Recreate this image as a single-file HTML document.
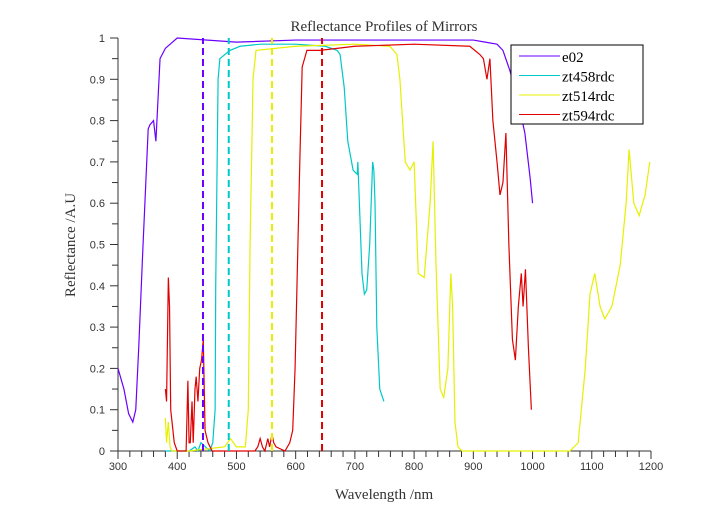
<!DOCTYPE html>
<html><head><meta charset="utf-8"><style>
body{margin:0;background:#fff;}
svg text{font-family:"Liberation Sans",sans-serif;}
.serif{font-family:"Liberation Serif",serif;}
</style></head><body>
<svg id="chart" width="718" height="508" xmlns="http://www.w3.org/2000/svg">
<text class="serif" x="384" y="31" text-anchor="middle" font-size="15" fill="#333">Reflectance Profiles of Mirrors</text>
<text class="serif" x="384" y="499" text-anchor="middle" font-size="15" fill="#333">Wavelength /nm</text>
<text class="serif" x="75" y="245" text-anchor="middle" font-size="15" fill="#333" transform="rotate(-90 75 245)">Reflectance /A.U</text>
<g id="axes"></g><g id="marks"></g><g id="legend"></g>
</svg>
<script>
const xTicks=[300,400,500,600,700,800,900,1000,1100,1200];
const yTicks=[0,0.1,0.2,0.3,0.4,0.5,0.6,0.7,0.8,0.9,1];
const seriesNames=["e02","zt458rdc","zt514rdc","zt594rdc"];
const seriesColors=["#6a00ff","#00c8c8","#e6f000","#e00000"];
const markerWavelengths=[443.5,487,560,644.5];
const e02X=[300,310,318,325,330,335,342,351,354,360,364,371,380,388,400,500,600,700,800,900,920,940,950,962,975,987,996,1000];
const e02Y=[0.2,0.15,0.09,0.07,0.1,0.25,0.49,0.78,0.79,0.8,0.75,0.95,0.975,0.985,1,0.99,0.995,0.995,0.995,0.995,0.99,0.985,0.97,0.92,0.85,0.77,0.66,0.6];
const zt458X=[380,420,430,435,440,455,460,464,465,469,472,489,506,540,600,650,670,675,682,688,697,704,705,712,716,720,725,730,732,734,737,742,749];
const zt458Y=[0,0,0.01,0.0,0.02,0,0.02,0.1,0.4,0.9,0.95,0.97,0.98,0.985,0.985,0.98,0.97,0.96,0.88,0.75,0.68,0.67,0.7,0.43,0.38,0.39,0.5,0.7,0.68,0.6,0.3,0.15,0.12];
const zt514X=[380,382,385,388,391,395,420,480,490,500,515,520,523,528,533,600,700,759,771,776,785,793,800,807,817,827,832,837,844,850,857,862,865,869,874,881,1063,1077,1089,1097,1105,1114,1122,1134,1148,1158,1163,1171,1180,1190,1198];
const zt514Y=[0.08,0.02,0.07,0.01,0,0,0,0.01,0.03,0.01,0.01,0.1,0.5,0.9,0.97,0.98,0.985,0.98,0.96,0.9,0.7,0.68,0.7,0.43,0.42,0.6,0.75,0.45,0.15,0.13,0.2,0.43,0.35,0.07,0.01,0,0,0.02,0.2,0.38,0.43,0.35,0.32,0.35,0.45,0.6,0.73,0.6,0.57,0.62,0.7];
const zt594X=[380,382,385,387,389,395,400,415,418,420,422,425,427,430,432,435,438,441,444,447,452,459,531,536,540,544,548,553,556,560,563,567,582,590,595,599,603,607,611,619,641,700,800,894,911,917,923,928,933,940,945,950,955,960,966,971,976,981,984,988,993,998];
const zt594Y=[0.15,0.12,0.42,0.35,0.1,0.02,0,0,0.17,0.02,0.02,0.12,0.02,0.15,0.18,0.12,0.2,0.22,0.27,0.05,0.02,0,0,0.01,0.03,0.01,0,0.03,0.01,0.04,0.02,0.01,0,0.02,0.05,0.2,0.45,0.7,0.93,0.97,0.97,0.98,0.985,0.98,0.96,0.95,0.9,0.95,0.8,0.7,0.62,0.65,0.77,0.5,0.27,0.22,0.35,0.43,0.35,0.44,0.25,0.1];
const allX=[e02X,zt458X,zt514X,zt594X], allY=[e02Y,zt458Y,zt514Y,zt594Y];
const NS="http://www.w3.org/2000/svg";
const X0=118,X1=651,Y0=451,Y1=38;
const sx=v=>X0+(v-300)/900*(X1-X0);
const sy=v=>Y0-v*(Y0-Y1);
function mk(tag,attrs,parent){const e=document.createElementNS(NS,tag);for(const k in attrs)e.setAttribute(k,attrs[k]);parent.appendChild(e);return e;}
const axes=document.getElementById('axes');
let a=mk('line',{x1:X0,y1:Y0,x2:X1,y2:Y0,stroke:'#333'},axes);


a=mk('line',{x1:X0,y1:Y0,x2:X0,y2:Y1,stroke:'#333'},axes);


for(let v=300;v<=1200;v+=20){const major=(v%100===0);mk('line',{x1:sx(v),x2:sx(v),y1:Y0,y2:Y0+(major?8:6),stroke:'#333'},axes);}
for(let i=0;i<=20;i++){const v=i*0.05;mk('line',{x1:X0-(i%2?6:8),x2:X0,y1:sy(v),y2:sy(v),stroke:'#333'},axes);}
xTicks.forEach(v=>{const t=mk('text',{x:sx(v),y:Y0+19,'text-anchor':'middle','font-size':11,fill:'#333'},axes);t.textContent=v;

});
yTicks.forEach(v=>{const t=mk('text',{x:X0-13,y:sy(v)+4,'text-anchor':'end','font-size':11,fill:'#333'},axes);t.textContent=v;

});
const marks=document.getElementById('marks');
allX.forEach((xs,i)=>{const p=mk('polyline',{points:xs.map((x,j)=>sx(x)+','+sy(allY[i][j])).join(' '),fill:'none',stroke:seriesColors[i],'stroke-width':1.2},marks);

});
markerWavelengths.forEach((w,i)=>{const l=mk('line',{x1:sx(w),x2:sx(w),y1:sy(0),y2:sy(1),stroke:seriesColors[i],'stroke-width':2,'stroke-dasharray':'7,4'},marks);

});
const lg=document.getElementById('legend');
const box=mk('rect',{x:511,y:45,width:132,height:79,fill:'#fff',stroke:'#000'},lg);


seriesNames.forEach((n,i)=>{const y=56+i*19.5;
mk('line',{x1:519,x2:560,y1:y,y2:y,stroke:seriesColors[i]},lg);
const t=mk('text',{x:562,y:y+6,'font-size':15,fill:'#000',class:'serif'},lg);t.textContent=n;

});
</script>
</body></html>
